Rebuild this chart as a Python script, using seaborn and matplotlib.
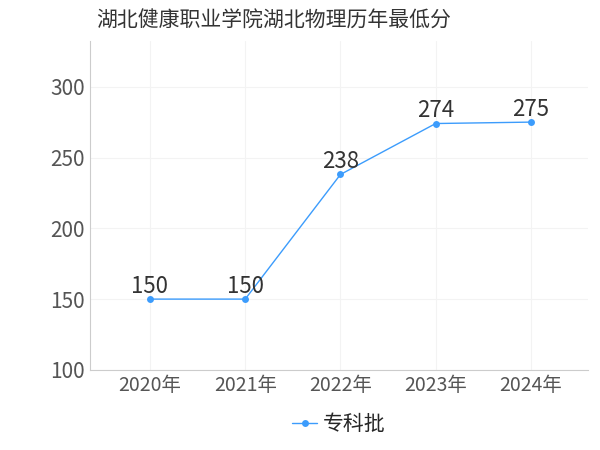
import matplotlib
matplotlib.use("Agg")
import matplotlib.pyplot as plt
import seaborn as sns
import pandas as pd

years = ["2020年", "2021年", "2022年", "2023年", "2024年"]
scores = [150, 150, 238, 274, 275]
series = "专科批"

sns.set_style("white")
plt.rcParams['font.family'] = ['Noto Sans CJK SC', 'DejaVu Sans']

df = pd.DataFrame({"year": years, "score": scores, "s": series})
fig = plt.figure(figsize=(6, 4.5), dpi=100)
ax = fig.add_axes([0.15, 0.178, 0.83, 0.73])
color = "#3c9cfc"
sns.lineplot(data=df, x="year", y="score", hue="s", palette=[color], marker="o",
             markersize=5, markeredgewidth=0, linewidth=1, ax=ax, sort=False)
for i, v in enumerate(scores):
    ax.text(i, v + 1, str(v), ha="center", va="bottom", fontsize=16, color="#333333")
ax.set_xlim(-0.63, 4.6)
ax.set_ylim(100, 332)
ax.set_yticks([100, 150, 200, 250, 300])
ax.set_xlabel("")
ax.set_ylabel("")
ax.grid(True, color="#f3f3f3", linewidth=0.8)
for s in ["top", "right"]:
    ax.spines[s].set_visible(False)
for s in ["left", "bottom"]:
    ax.spines[s].set_color("#cccccc")
ax.tick_params(axis="both", labelsize=14, colors="#555555", length=0)
ax.tick_params(axis="y", labelsize=15)
ax.legend(handles=ax.get_legend_handles_labels()[0], labels=[series], loc="upper center",
          bbox_to_anchor=(0.5, -0.075), frameon=False, fontsize=15, handlelength=1.2,
          handletextpad=0.3)
fig.text(0.16, 0.955, "湖北健康职业学院湖北物理历年最低分", fontsize=15, color="#333333", va="center")
fig.savefig("out.png", dpi=100)
